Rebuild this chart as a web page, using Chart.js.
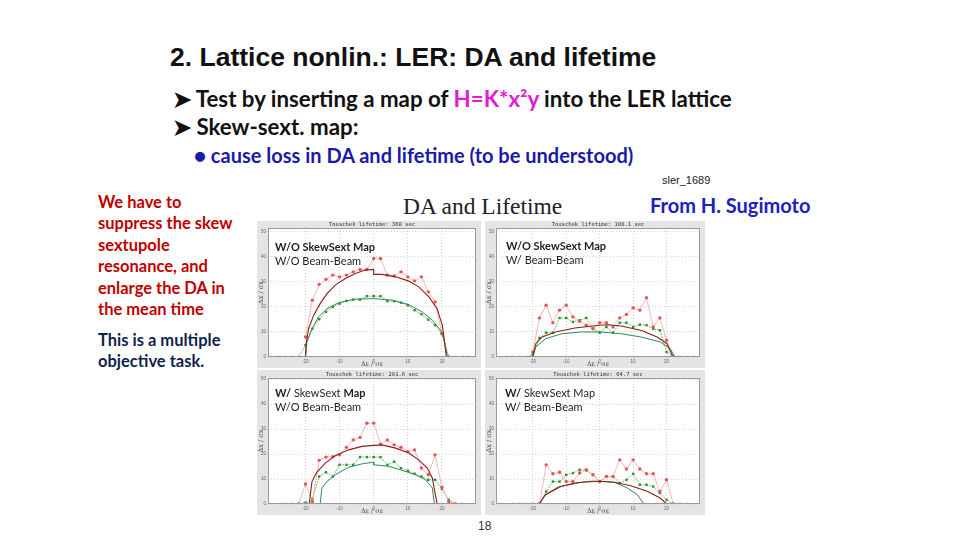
<!DOCTYPE html>
<html>
<head>
<meta charset="utf-8">
<script src="https://cdn.jsdelivr.net/npm/chart.js@4"></script>
<style>
  body { margin: 0; background: #fff; }
  #slide { position: relative; width: 960px; height: 540px; overflow: hidden; background: #fff; }
  .t { position: absolute; white-space: nowrap; line-height: 1; }
  .frame { position: absolute; background: #e4e4e4; }
  .frame canvas { position: absolute; left: 0; top: 0; }
  .note { position: absolute; font: 11px Lato, sans-serif; color: #1e1e1e; white-space: nowrap; line-height: 14px; }
  .note b { font-weight: 700; }
</style>
</head>
<body>
<div id="slide">
  <div class="t" style="left:170px;top:42px;font:bold 26.5px 'Liberation Sans',Arial,sans-serif;color:#111;">2. Lattice nonlin.: LER: DA and lifetime</div>
  <div class="t" style="left:173px;top:85px;font:bold 22.3px Lato,sans-serif;color:#111;">➤ Test by inserting a map of <span style="color:#e020d0">H=K*x²y</span> into the LER lattice</div>
  <div class="t" style="left:173px;top:113px;font:bold 22.3px Lato,sans-serif;color:#111;">➤ Skew-sext. map:</div>
  <div class="t" style="left:194px;top:143px;font:bold 20px Lato,sans-serif;color:#1a1aa8;">● cause loss in DA and lifetime (to be understood)</div>
  <div class="t" style="left:662px;top:174px;font:11px 'Liberation Sans',Arial,sans-serif;color:#222;">sler_1689</div>
  <div class="t" style="left:403px;top:193px;font:23.5px 'Liberation Serif','Times New Roman',serif;color:#222;">DA and Lifetime</div>
  <div class="t" style="left:650px;top:193px;font:bold 20px Lato,sans-serif;color:#2020c0;">From H. Sugimoto</div>
  <div class="t" style="left:98px;top:191.5px;font:bold 16.5px Lato,sans-serif;color:#c00000;line-height:21.6px;">We have to<br>suppress the skew<br>sextupole<br>resonance, and<br>enlarge the DA in<br>the mean time</div>
  <div class="t" style="left:98px;top:329.5px;font:bold 16.5px Lato,sans-serif;color:#0e1f4d;line-height:21.6px;">This is a multiple<br>objective task.</div>
  <div class="t" style="left:478px;top:519px;font:12px 'Liberation Sans',Arial,sans-serif;color:#333;">18</div>

  <div class="frame" style="left:257px;top:221px;width:224px;height:147px;"><canvas id="c1" width="224" height="147"></canvas></div>
  <div class="frame" style="left:485px;top:221px;width:220px;height:147px;"><canvas id="c2" width="220" height="147"></canvas></div>
  <div class="frame" style="left:257px;top:370px;width:224px;height:145px;"><canvas id="c3" width="224" height="145"></canvas></div>
  <div class="frame" style="left:485px;top:370px;width:220px;height:145px;"><canvas id="c4" width="220" height="145"></canvas></div>

  <div class="note" style="left:275px;top:240px;"><b>W/O SkewSext Map</b><br>W/O Beam-Beam</div>
  <div class="note" style="left:506px;top:239px;"><b>W/O SkewSext Map</b><br>W/ Beam-Beam</div>
  <div class="note" style="left:275px;top:386px;"><b>W/</b> SkewSext <b>Map</b><br>W/O Beam-Beam</div>
  <div class="note" style="left:505px;top:386px;"><b>W/</b> SkewSext Map<br>W/ Beam-Beam</div>
</div>

<script>
// energy offset (in units of sigma_e) where tracking points sit
const dE = [-28,-26,-24,-22,-20,-18,-16,-14,-12,-10,-8,-6,-4,-2,0,2,4,6,8,10,12,14,16,18,20,22,24,26,28];
const xTicks = [-20, -10, 0, 10, 20];
const yTicks = [0, 10, 20, 30, 40, 50];
const yMax = [51.5, 51.5, 50.5, 50.5];
const titles = ['Touschek lifetime: 360 sec', 'Touschek lifetime: 100.1 sec', 'Touschek lifetime: 201.6 sec', 'Touschek lifetime: 64.7 sec'];

// panel 1: no skew sext, no beam-beam
const p1Red   = [null,null,null,null,8,22.7,29,31,32.7,32,32.7,34,35,35,39.3,39.3,32.7,32.4,34,32,30.4,32,26,22,9.3,0,null,null,null];
const p1Green = [0,0,0,0,4.7,11.3,15.1,18,20,21.3,22.4,22.9,22.9,24.3,24.3,24.3,22.3,22.3,21.7,20.7,18.7,17.1,14.9,12.7,9.3,0,0,0,0];
const p1RedCurveX   = [-20,-19.8,-19.1,-17.6,-15.7,-13.7,-11.3,-8.3,-5.4,-2.5,0,0,2.5,6.4,10.3,13.2,16.2,18.6,20.1,20.6,21.3];
const p1RedCurveY   = [0,5.3,11.3,16.7,21.3,25.3,28.7,31.3,33.3,34.7,35,33,33,32,30.3,28,24,19.3,12.7,8,0];
const p1GreenCurveX = [-20,-19.6,-18.1,-16.2,-13.7,-10.3,-5.4,0,5.4,10.3,14.2,17.2,19.6,20.6,21.6];
const p1GreenCurveY = [0,6,11.3,16,19.3,21.7,23.1,23.3,22.7,20.9,18,14.7,10.7,7.3,0];

// panel 2: no skew sext, with beam-beam
const p2Red   = [null,null,null,null,2,15.6,20.7,13.7,18.7,20.7,16,14.3,12.7,11.3,13.7,13.7,12,15.6,17,19.6,18.7,23.7,12,15.6,6.7,0,null,null,null];
const p2Green = [0,0,0,0,1,7.6,9.7,9.7,15.6,15.6,14,14.7,15.6,11.3,9.7,12,9.7,13.7,13.7,12,12.9,12.7,11.3,10.7,2,0,0,0,0];
const p2RedCurveX   = [-20,-19.1,-17.2,-13.2,-7.4,0,2.5,6.4,12.3,17.2,20.1,21.9];
const p2RedCurveY   = [0,5.3,8,10,11.6,12.7,12.9,12.4,10.7,8,5.3,0];
const p2GreenCurveX = [-20,-19.1,-16.2,-11.3,-5.4,0,6.4,12.3,18.1,21.1,22.5];
const p2GreenCurveY = [0,4,7.3,9.3,10,10,9.3,8,6,3.3,0];

// panel 3: with skew sext, no beam-beam
const p3Red   = [null,null,null,0,8,1,17.5,18.8,19,19.7,22.7,25.7,26.7,32.4,32.4,24,25.7,23.7,22.7,21,21.7,14.4,11.7,19.7,6.7,1,0,null,null];
const p3Green = [null,0,0,0,0.5,2,11,12.7,11,15.7,15.7,15.7,18.8,18.8,18.8,18.8,15.7,17,14.4,13.3,12.1,11,9.7,9.7,6,1.7,0,0,null];
const p3RedCurveX   = [-18.9,-18.1,-16.7,-14.2,-11.3,-7.4,-3.4,0,2.5,6.4,10.3,13.2,15.7,17.2,18.6];
const p3RedCurveY   = [0,9,12.7,16.4,19.3,21.7,23.1,23.5,23.7,22.4,20.4,17.7,14.4,10.4,0];
const p3GreenCurveX = [-15.7,-15.2,-13.7,-11.3,-7.4,-3.4,0,0,4.4,8.3,12.3,15.2,17.2,17.8];
const p3GreenCurveY = [0,6.4,9,11.7,14.7,16.1,16.8,15.7,15.1,13.5,11.7,9.7,6.4,0];

// panel 4: with skew sext, with beam-beam
const p4Red   = [null,null,null,null,null,0,15.7,12.1,12.7,9,9,12.4,13.7,11.7,9,11,11,17.7,14,17.7,14,12.1,12.1,5,9.7,0,null,null,null];
const p4Green = [null,0,0,0,0,0,5,9,9,11.7,12.4,13.7,13.5,11.7,9,11,11,8.4,9.7,12.1,7.7,7.7,7,4.4,1.7,0,0,0,null];
const p4RedCurveX   = [-18.1,-16.2,-12.3,-7.4,-2.5,0,4.4,9.3,14.2,18.1,20.1];
const p4RedCurveY   = [0,3.7,6.8,8.4,9.1,9.1,8.7,7.3,5.1,2.4,0];
const p4GreenCurveX = [-18.1,-16.2,-11.3,-5.4,0,4.4,8.3,11.3,13.2];
const p4GreenCurveY = [0,3.7,7.1,8.7,9.1,8.7,6.4,3.7,0];

const pts = (xs, ys) => xs.map((x, i) => ({ x: x, y: ys[i] }));

// white plot area, box round it, and the small lifetime title
const plotBox = {
  id: 'plotBox',
  beforeDraw(chart) {
    const a = chart.chartArea, c = chart.ctx;
    c.save();
    c.fillStyle = '#fff';
    c.fillRect(a.left, a.top, a.right - a.left, a.bottom - a.top);
    c.restore();
  },
  afterDraw(chart) {
    const a = chart.chartArea, c = chart.ctx;
    c.save();
    c.strokeStyle = '#999';
    c.lineWidth = 1;
    c.strokeRect(a.left + 0.5, a.top + 0.5, a.right - a.left - 1, a.bottom - a.top - 1);
    c.fillStyle = '#333';
    c.font = '5.5px "DejaVu Sans Mono", monospace';
    c.textAlign = 'center';
    c.textBaseline = 'bottom';
    c.fillText(chart.options.plugins.panelTitle, (a.left + a.right) / 2, a.top - 0.5);
    c.restore();
  }
};

function makePanel(id, title, red, green, rcx, rcy, gcx, gcy, topPad, ymax) {
  new Chart(document.getElementById(id), {
    type: 'line',
    data: {
      datasets: [
        { data: pts(dE, red), borderColor: '#f3a3a3', borderWidth: 0.8, pointRadius: 1.7,
          pointBackgroundColor: '#e4564f', pointBorderWidth: 0, spanGaps: false, order: 2 },
        { data: pts(dE, green), borderColor: '#52b052', borderWidth: 0.8, borderDash: [2, 1], pointRadius: 1.7,
          pointStyle: 'rect', pointBackgroundColor: '#2f8f2f', pointBorderWidth: 0, spanGaps: false, order: 3 },
        { data: pts(rcx, rcy), borderColor: '#8e1c1c', borderWidth: 1.1, pointRadius: 0, order: 1 },
        { data: pts(gcx, gcy), borderColor: '#2e8a55', borderWidth: 1, pointRadius: 0, order: 1 }
      ]
    },
    options: {
      responsive: false,
      animation: false,
      layout: { padding: { top: topPad, right: 5, left: 0, bottom: 0 } },
      plugins: { legend: { display: false }, tooltip: { enabled: false }, panelTitle: title },
      scales: {
        x: {
          type: 'linear', min: -31, max: 30,
          afterBuildTicks: s => { s.ticks = xTicks.map(v => ({ value: v })); },
          afterFit: s => { s.height = 11; },
          ticks: { font: { size: 4.5 }, color: '#666', padding: 0, maxRotation: 0 },
          grid: { color: '#d4d4d4', tickLength: 2 },
          border: { display: false, dash: [1, 2] },
          title: { display: true, text: 'Δε / σε', font: { size: 6.5, family: 'DejaVu Serif' }, color: '#444', padding: 0 }
        },
        y: {
          min: 0, max: ymax,
          afterBuildTicks: s => { s.ticks = yTicks.map(v => ({ value: v })); },
          afterFit: s => { s.width = 11; },
          ticks: { font: { size: 4.5 }, color: '#666', padding: 0 },
          grid: { color: '#d4d4d4', tickLength: 2 },
          border: { display: false, dash: [1, 2] },
          title: { display: true, text: 'Δx / σx', font: { size: 6.5, family: 'DejaVu Serif' }, color: '#444', padding: 0 }
        }
      }
    },
    plugins: [plotBox]
  });
}

makePanel('c1', titles[0], p1Red, p1Green, p1RedCurveX, p1RedCurveY, p1GreenCurveX, p1GreenCurveY, 7, yMax[0]);
makePanel('c2', titles[1], p2Red, p2Green, p2RedCurveX, p2RedCurveY, p2GreenCurveX, p2GreenCurveY, 7, yMax[1]);
makePanel('c3', titles[2], p3Red, p3Green, p3RedCurveX, p3RedCurveY, p3GreenCurveX, p3GreenCurveY, 8, yMax[2]);
makePanel('c4', titles[3], p4Red, p4Green, p4RedCurveX, p4RedCurveY, p4GreenCurveX, p4GreenCurveY, 8, yMax[3]);
</script>
</body>
</html>
